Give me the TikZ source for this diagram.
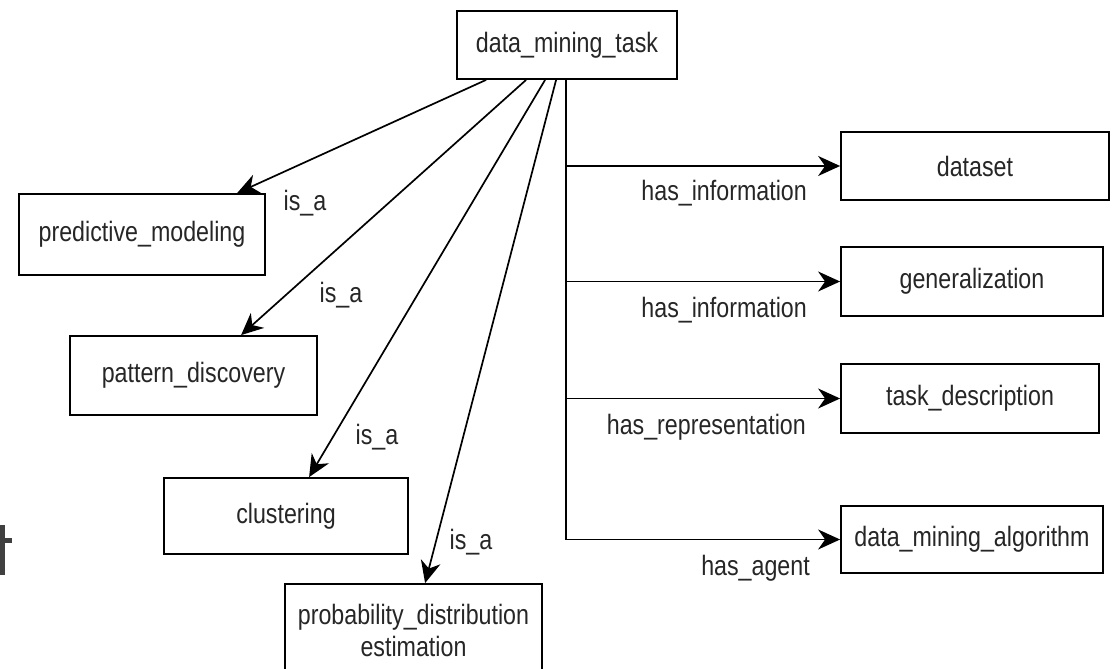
\documentclass[tikz,border=0pt]{standalone}
\usepackage{fontspec}
\setmainfont{Liberation Sans}[FakeStretch=0.83]
\usetikzlibrary{arrows.meta,calc}
\begin{document}
\begin{tikzpicture}[x=1pt,y=-1pt,
  every node/.style={font=\fontsize{28}{32}\selectfont, text=black!85},
  concept/.style 2 args={draw, line width=1.8pt, rectangle, inner sep=0pt,
    minimum width=#1, minimum height=#2, align=center},
  rel/.style={line width=1.7pt, -{Stealth[length=22pt,width=20pt,inset=7pt]}},
  lbl/.style={inner sep=0pt}]
\clip (0,0) rectangle (1117,669);
\fill[white] (0,0) rectangle (1117,669);

% fragment of a glyph on the left margin
\fill[black!75] (0,525) rectangle (5,575);
\fill[black!75] (0,538) rectangle (12,543);

% concepts
\node[concept={220pt}{68pt}] (task) at (567,45) {data\_mining\_task};
\node[concept={246pt}{81pt}] (pm) at (142,234.5) {predictive\_modeling};
\node[concept={247pt}{79pt}] (pd) at (193.5,375.5) {pattern\_discovery};
\node[concept={244pt}{76pt}] (cl) at (286,516) {clustering};
\node[concept={257pt}{92pt}] (pr) at (413.5,630) {probability\_distribution\\estimation};
\node[concept={268pt}{68pt}] (ds) at (975,166) {dataset};
\node[concept={262pt}{69pt}] (ge) at (972,281.5) {generalization};
\node[concept={258pt}{69pt}] (td) at (970,398.5) {task\_description};
\node[concept={262pt}{67pt}] (alg) at (972,539.5) {data\_mining\_algorithm};

% is_a relations
\coordinate (s1) at ([xshift=30pt]task.south west);
\coordinate (s2) at ([xshift=70pt]task.south west);
\coordinate (s3) at ([xshift=89pt]task.south west);
\coordinate (s4) at ([xshift=100pt]task.south west);
\coordinate (t1) at ([xshift=219pt]pm.north west);
\coordinate (t2) at ([xshift=172pt]pd.north west);
\coordinate (t3) at ([xshift=146pt]cl.north west);
\coordinate (t4) at ([xshift=141pt]pr.north west);
\draw[rel] (s1) -- (t1);
\draw[rel] (s2) -- (t2);
\draw[rel] (s3) -- (t3);
\draw[rel] (s4) -- (t4);
\node[lbl] (l1) at (305,203) {is\_a};
\node[lbl] (l2) at (341,295) {is\_a};
\node[lbl] (l3) at (377,437) {is\_a};
\node[lbl] (l4) at (471,542) {is\_a};

% property relations along the trunk
\coordinate (tr) at ([xshift=110pt]task.south west);
\draw[rel] (tr) |- (alg.west);
\draw[rel] (ds.west -| tr) -- (ds.west);
\draw[rel] (ge.west -| tr) -- (ge.west);
\draw[rel] (td.west -| tr) -- (td.west);
\node[lbl, anchor=east] (r1) at (807,193) {has\_information};
\node[lbl, anchor=east] (r2) at (807,310) {has\_information};
\node[lbl, anchor=east] (r3) at (806,427) {has\_representation};
\node[lbl, anchor=east] (r4) at (810,568) {has\_agent};
\end{tikzpicture}
\end{document}
